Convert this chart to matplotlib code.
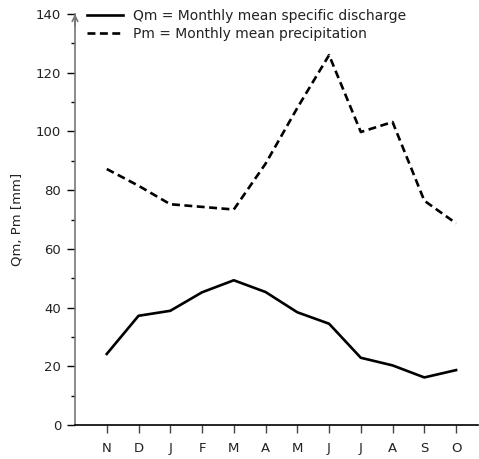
import matplotlib
matplotlib.use("Agg")
import matplotlib.pyplot as plt

months = ["N", "D", "J", "F", "M", "A", "M", "J", "J", "A", "S", "O"]
qm = [24.2, 37.2, 38.9, 45.2, 49.3, 45.3, 38.4, 34.5, 22.9, 20.3, 16.2, 18.7]
pm = [87.2, 81.5, 75.2, 74.3, 73.4, 89.0, 108.0, 126.0, 99.8, 103.2, 76.4, 68.7]
y_major = [0, 20, 40, 60, 80, 100, 120, 140]
y_minor = [10, 30, 50, 70, 90, 110, 130]

GRAY = "#777777"
TEXT = "#222222"

fig = plt.figure(figsize=(4.79, 4.59), dpi=100)
ax = fig.add_axes([75 / 479, 1 - 425 / 459, 403 / 479, 411 / 459])

x = list(range(len(months)))
ax.plot(x, qm, color="black", lw=1.9, label="Qm = Monthly mean specific discharge")
ax.plot(x, pm, color="black", lw=1.9, ls=(0, (3, 1.7)),
        label="Pm = Monthly mean precipitation")

ax.set_xlim(-1, 11.69)
ax.set_ylim(0, 140)
ax.set_xticks(x)
ax.set_xticklabels(months)
ax.set_yticks(y_major)
ax.set_yticks(y_minor, minor=True)

ax.spines["top"].set_visible(False)
ax.spines["right"].set_visible(False)
ax.spines["left"].set_color(GRAY)
ax.spines["left"].set_linewidth(1.2)
ax.spines["bottom"].set_color("black")
ax.spines["bottom"].set_linewidth(1.2)

ax.tick_params(axis="y", which="major", length=6, width=1, color="black",
               labelsize=9.5, labelcolor=TEXT, pad=4)
ax.tick_params(axis="y", which="minor", length=3, width=1, color="black")
ax.tick_params(axis="x", length=6, width=1, color="#444444", labelsize=9.5,
               labelcolor=TEXT, pad=6)

ax.set_ylabel("Qm, Pm [mm]", fontsize=9.5, color=TEXT, labelpad=9)

# arrowhead at top of y-axis
ax.annotate("", xy=(0, 1.0), xytext=(0, 0.97), xycoords="axes fraction",
            arrowprops=dict(arrowstyle="->", color=GRAY, lw=1.2,
                            shrinkA=0, shrinkB=0, mutation_scale=10))

leg = ax.legend(loc="upper left", bbox_to_anchor=(0.016, 1.026), frameon=False,
                fontsize=10, handlelength=2.6, handletextpad=0.72,
                labelspacing=0.3, borderaxespad=0)
for t in leg.get_texts():
    t.set_color(TEXT)

fig.savefig("out.png", dpi=100)
